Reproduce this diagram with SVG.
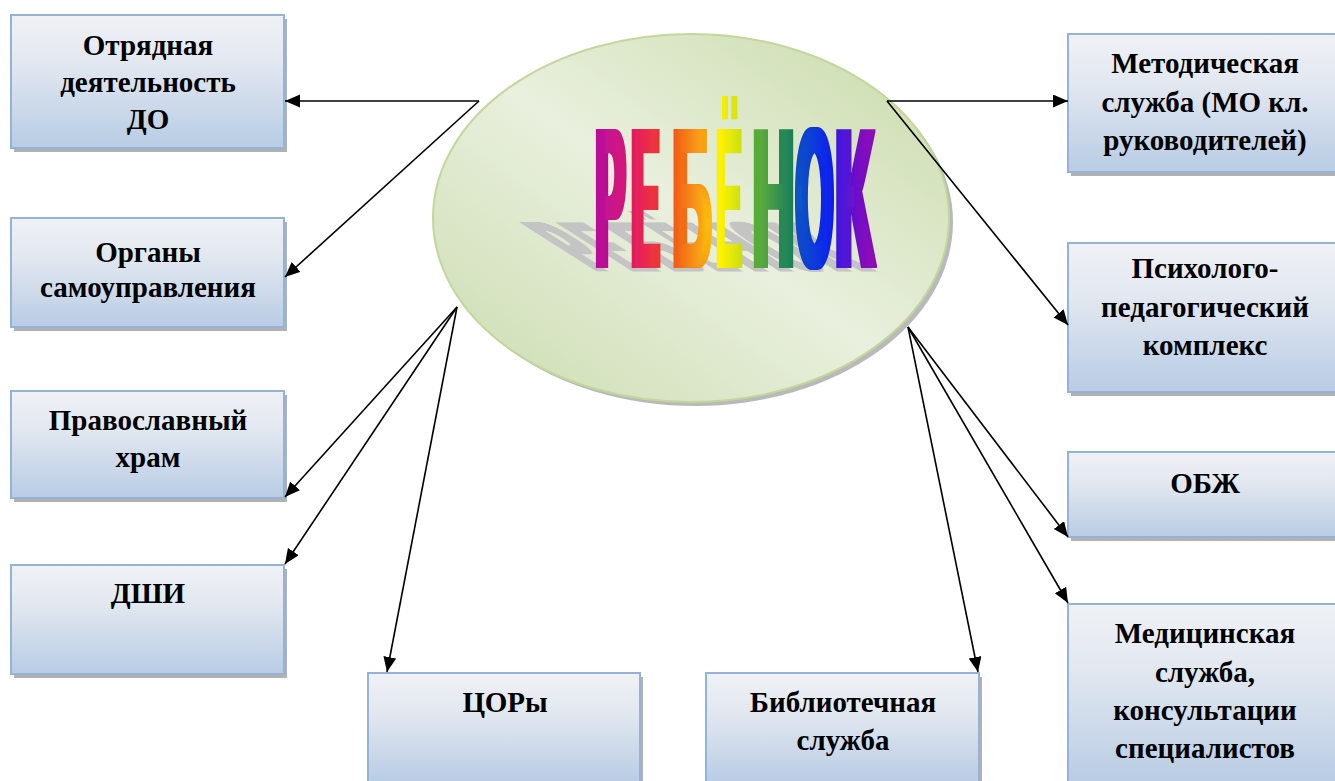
<svg xmlns="http://www.w3.org/2000/svg" width="1335" height="781" viewBox="0 0 1335 781">
<defs>
<style>
.sh{fill:#a3a3a3;opacity:.85}
.box{fill:url(#boxg);stroke:#95b3d7;stroke-width:2}
.t{font-family:"Liberation Serif","Times New Roman","DejaVu Serif",serif;font-weight:bold;font-size:29px;text-anchor:middle;fill:#000}
.c{fill:none;stroke:#000;stroke-width:1.6;marker-end:url(#ah)}
.wa{font-family:"Liberation Sans",Arial,sans-serif;font-weight:bold;font-size:40px}
.wl{fill:url(#rainbow)}
.ws{fill:#c4c4c4}
</style>
<filter id="thick" x="-20%" y="-5%" width="140%" height="110%">
<feMorphology operator="dilate" radius="2.6 0.2"/>
</filter>
<filter id="thin" x="-20%" y="-5%" width="140%" height="110%">
<feMorphology operator="dilate" radius="1.3 0.2"/>
</filter>
<linearGradient id="boxg" x1="0" y1="0" x2="0" y2="1">
<stop offset="0" stop-color="#eff1f5"/>
<stop offset="0.35" stop-color="#e3e8f0"/>
<stop offset="1" stop-color="#b8cce4"/>
</linearGradient>
<linearGradient id="ellg" x1="1" y1="0" x2="0" y2="1">
<stop offset="0" stop-color="#c9daa8"/>
<stop offset="0.5" stop-color="#e9f0de"/>
<stop offset="1" stop-color="#cbdbae"/>
</linearGradient>
<linearGradient id="rainbow" gradientUnits="userSpaceOnUse" x1="596" y1="0" x2="875" y2="0">
<stop offset="0" stop-color="#b20c9c"/>
<stop offset="0.1" stop-color="#d31876"/>
<stop offset="0.17" stop-color="#e8224a"/>
<stop offset="0.27" stop-color="#f04a18"/>
<stop offset="0.39" stop-color="#f8a610"/>
<stop offset="0.44" stop-color="#fff200"/>
<stop offset="0.53" stop-color="#c4dc10"/>
<stop offset="0.57" stop-color="#5eae32"/>
<stop offset="0.71" stop-color="#10785e"/>
<stop offset="0.73" stop-color="#0a4cc4"/>
<stop offset="0.85" stop-color="#1018f2"/>
<stop offset="0.88" stop-color="#4412d8"/>
<stop offset="1" stop-color="#940fb0"/>
</linearGradient>
<marker id="ah" markerUnits="userSpaceOnUse" markerWidth="16" markerHeight="14" refX="15" refY="6.5" orient="auto">
<path d="M0,0 L15,6.5 L0,13 z" fill="#000"/>
</marker>
</defs>

<g id="center">
<ellipse cx="695" cy="222" rx="258" ry="184" fill="#a8a8a8" opacity=".8"/>
<ellipse cx="691" cy="218" rx="258" ry="184" fill="url(#ellg)" stroke="#c3d69b" stroke-width="2"/>
<g transform="translate(0,271) matrix(1,0,0.55,0.35,0,0) scale(1,4.95)" class="wa ws">
<text x="596" y="0" textLength="29" lengthAdjust="spacingAndGlyphs" filter="url(#thick)">Р</text>
<text x="632" y="0" textLength="27" lengthAdjust="spacingAndGlyphs" filter="url(#thick)">Е</text>
<text x="673" y="0" textLength="38" lengthAdjust="spacingAndGlyphs" filter="url(#thick)">Б</text>
<text x="715" y="0" textLength="28" lengthAdjust="spacingAndGlyphs" filter="url(#thin)">Ё</text>
<text x="753" y="0" textLength="41" lengthAdjust="spacingAndGlyphs" filter="url(#thick)">Н</text>
<text x="796" y="0" textLength="37" lengthAdjust="spacingAndGlyphs" filter="url(#thick)">О</text>
<text x="835" y="0" textLength="39" lengthAdjust="spacingAndGlyphs" filter="url(#thick)">К</text>
</g>
<g transform="translate(0,267) scale(1,4.95)" class="wa wl">
<text x="596" y="0" textLength="29" lengthAdjust="spacingAndGlyphs" filter="url(#thick)">Р</text>
<text x="632" y="0" textLength="27" lengthAdjust="spacingAndGlyphs" filter="url(#thick)">Е</text>
<text x="673" y="0" textLength="38" lengthAdjust="spacingAndGlyphs" filter="url(#thick)">Б</text>
<text x="715" y="0" textLength="28" lengthAdjust="spacingAndGlyphs" filter="url(#thin)">Ё</text>
<text x="753" y="0" textLength="41" lengthAdjust="spacingAndGlyphs" filter="url(#thick)">Н</text>
<text x="796" y="0" textLength="37" lengthAdjust="spacingAndGlyphs" filter="url(#thick)">О</text>
<text x="835" y="0" textLength="39" lengthAdjust="spacingAndGlyphs" filter="url(#thick)">К</text>
</g>
</g>

<g id="n1">
<rect class="sh" x="14" y="19" width="273" height="133"/>
<rect class="box" x="11" y="15" width="273" height="133"/>
<text class="t" x="148" y="55">Отрядная</text>
<text class="t" x="148" y="92">деятельность</text>
<text class="t" x="148" y="129">ДО</text>
</g>
<g id="n2">
<rect class="sh" x="14" y="222" width="273" height="109"/>
<rect class="box" x="11" y="218" width="273" height="109"/>
<text class="t" x="148" y="262">Органы</text>
<text class="t" x="148" y="297">самоуправления</text>
</g>
<g id="n3">
<rect class="sh" x="14" y="395" width="273" height="107"/>
<rect class="box" x="11" y="391" width="273" height="107"/>
<text class="t" x="148" y="430">Православный</text>
<text class="t" x="148" y="467">храм</text>
</g>
<g id="n4">
<rect class="sh" x="14" y="569" width="273" height="109"/>
<rect class="box" x="11" y="565" width="273" height="109"/>
<text class="t" x="148" y="603">ДШИ</text>
</g>
<g id="n5">
<rect class="sh" x="371" y="677" width="272" height="110"/>
<rect class="box" x="368" y="673" width="272" height="110"/>
<text class="t" x="505" y="712">ЦОРы</text>
</g>
<g id="n6">
<rect class="sh" x="709" y="677" width="273" height="110"/>
<rect class="box" x="706" y="673" width="273" height="110"/>
<text class="t" x="843" y="712">Библиотечная</text>
<text class="t" x="843" y="750">служба</text>
</g>
<g id="n7">
<rect class="sh" x="1071" y="38" width="274" height="138"/>
<rect class="box" x="1068" y="34" width="274" height="138"/>
<text class="t" x="1205" y="73">Методическая</text>
<text class="t" x="1205" y="112">служба (МО кл.</text>
<text class="t" x="1205" y="150">руководителей)</text>
</g>
<g id="n8">
<rect class="sh" x="1071" y="247" width="274" height="149"/>
<rect class="box" x="1068" y="243" width="274" height="149"/>
<text class="t" x="1205" y="278">Психолого-</text>
<text class="t" x="1205" y="317">педагогический</text>
<text class="t" x="1205" y="355">комплекс</text>
</g>
<g id="n9">
<rect class="sh" x="1071" y="456" width="274" height="85"/>
<rect class="box" x="1068" y="452" width="274" height="85"/>
<text class="t" x="1205" y="493">ОБЖ</text>
</g>
<g id="n10">
<rect class="sh" x="1071" y="608" width="274" height="180"/>
<rect class="box" x="1068" y="604" width="274" height="180"/>
<text class="t" x="1205" y="643">Медицинская</text>
<text class="t" x="1205" y="682">служба,</text>
<text class="t" x="1205" y="720">консультации</text>
<text class="t" x="1205" y="758">специалистов</text>
</g>

<g id="connectors">
<path class="c" d="M479,101 L285,101"/>
<path class="c" d="M479,101 L285,277"/>
<path class="c" d="M457,307 L285,497"/>
<path class="c" d="M457,307 L285,564"/>
<path class="c" d="M457,307 L387,672"/>
<path class="c" d="M887,101 L1068,101"/>
<path class="c" d="M887,101 L1068,325"/>
<path class="c" d="M908,327 L1068,537"/>
<path class="c" d="M908,327 L1068,603"/>
<path class="c" d="M908,327 L978,672"/>
</g>
</svg>
